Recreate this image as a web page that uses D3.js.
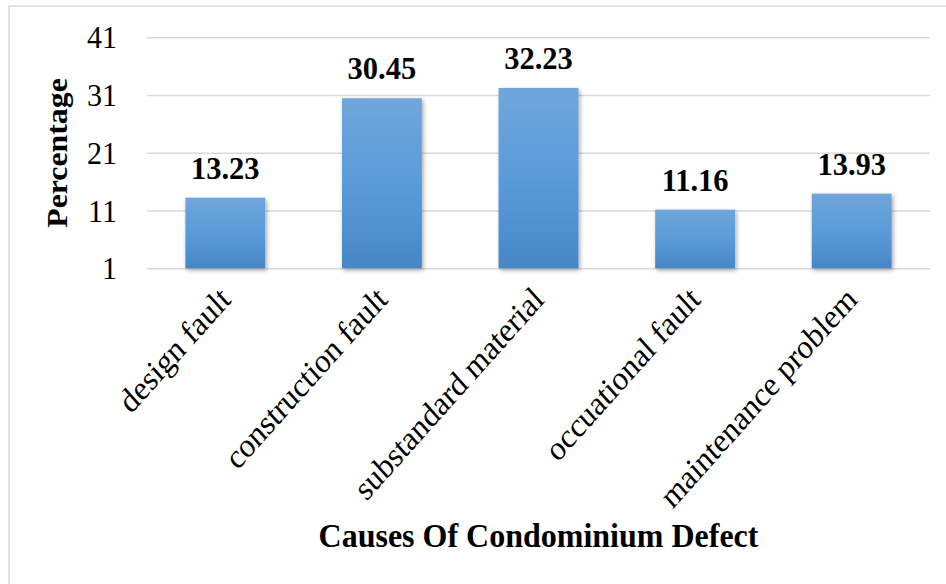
<!DOCTYPE html>
<html>
<head>
<meta charset="utf-8">
<script src="https://cdn.jsdelivr.net/npm/d3@7"></script>
<style>
  html, body { margin: 0; padding: 0; background: #fff; }
  svg { display: block; font-family: "Liberation Serif", "Times New Roman", serif; }
</style>
</head>
<body>
<svg id="chart" width="946" height="584"></svg>
<script>
// Causes of condominium defect, share in percent
const categories = ["design fault", "construction fault", "substandard material", "occuational fault", "maintenance problem"];
const values = [13.23, 30.45, 32.23, 11.16, 13.93];
const yTicks = [1, 11, 21, 31, 41];
const yTitle = "Percentage";
const xTitle = "Causes Of Condominium Defect";

const svg = d3.select("#chart");
const W = 946, H = 584;
const plot = { left: 147, right: 930, top: 37.3, bottom: 268.3 };
const stretch = 1.06; // glyphs are drawn slightly taller than wide

// outer chart border (only top and left edges fall inside the frame)
svg.append("rect")
  .attr("x", 9).attr("y", 6)
  .attr("width", W + 20).attr("height", H + 20)
  .attr("fill", "#fff")
  .attr("stroke", "#d9d9d9").attr("stroke-width", 1.5);

const defs = svg.append("defs");
const grad = defs.append("linearGradient")
  .attr("id", "barFill").attr("x1", 0).attr("y1", 0).attr("x2", 0).attr("y2", 1);
grad.append("stop").attr("offset", "0%").attr("stop-color", "#70a6dc");
grad.append("stop").attr("offset", "50%").attr("stop-color", "#5a9bd8");
grad.append("stop").attr("offset", "100%").attr("stop-color", "#4787c7");

const shadow = defs.append("filter").attr("id", "barShadow")
  .attr("x", "-20%").attr("y", "-20%").attr("width", "140%").attr("height", "140%");
shadow.append("feDropShadow")
  .attr("dx", 1.5).attr("dy", 2).attr("stdDeviation", 2)
  .attr("flood-color", "#000").attr("flood-opacity", 0.35);

const x = d3.scaleBand()
  .domain(categories)
  .range([plot.left, plot.right])
  .paddingInner(0.49).paddingOuter(0.245);

const y = d3.scaleLinear()
  .domain([1, 41])
  .range([plot.bottom, plot.top]);

// horizontal gridlines and tick labels
const yAxis = d3.axisLeft(y)
  .tickValues(yTicks)
  .tickSize(-(plot.right - plot.left))
  .tickFormat(d3.format("d"))
  .tickPadding(30);

const gy = svg.append("g")
  .attr("transform", `translate(${plot.left},0)`)
  .call(yAxis);
gy.select(".domain").remove();
gy.selectAll(".tick line").attr("stroke", "#d9d9d9").attr("stroke-width", 1.6);
gy.selectAll(".tick text")
  .attr("font-size", 30)
  .attr("fill", "#000")
  .attr("font-family", "Liberation Serif, Times New Roman, serif")
  .attr("x", null)
  .attr("transform", `translate(-30,0) scale(1,${stretch})`)
  .attr("dy", "0.33em");

// bars
svg.append("g").selectAll("rect")
  .data(values)
  .join("rect")
  .attr("x", (d, i) => x(categories[i]))
  .attr("y", d => y(d))
  .attr("width", x.bandwidth())
  .attr("height", d => y(1) - y(d))
  .attr("fill", "url(#barFill)")
  .attr("filter", "url(#barShadow)");

// value labels
svg.append("g").selectAll("text")
  .data(values)
  .join("text")
  .attr("transform", (d, i) =>
    `translate(${x(categories[i]) + x.bandwidth() / 2},${y(d) - 19}) scale(1,${stretch})`)
  .attr("text-anchor", "middle")
  .attr("font-size", 30.5)
  .attr("font-weight", "bold")
  .attr("fill", "#000")
  .text(d => d.toFixed(2));

// rotated category labels
svg.append("g").selectAll("text")
  .data(categories)
  .join("text")
  .attr("transform", d =>
    `translate(${x(d) + x.bandwidth() / 2 + 7},${plot.bottom + 33}) scale(1,1.12) rotate(-45)`)
  .attr("text-anchor", "end")
  .attr("font-size", 30.5)
  .attr("fill", "#000")
  .text(d => d);

// axis titles
svg.append("text")
  .attr("transform", `translate(67,153) scale(1,${stretch}) rotate(-90)`)
  .attr("text-anchor", "middle")
  .attr("font-size", 30)
  .attr("font-weight", "bold")
  .attr("fill", "#000")
  .text(yTitle);

svg.append("text")
  .attr("transform", `translate(${(plot.left + plot.right) / 2},547) scale(1,${stretch})`)
  .attr("text-anchor", "middle")
  .attr("font-size", 32)
  .attr("font-weight", "bold")
  .attr("fill", "#000")
  .text(xTitle);
</script>
</body>
</html>
